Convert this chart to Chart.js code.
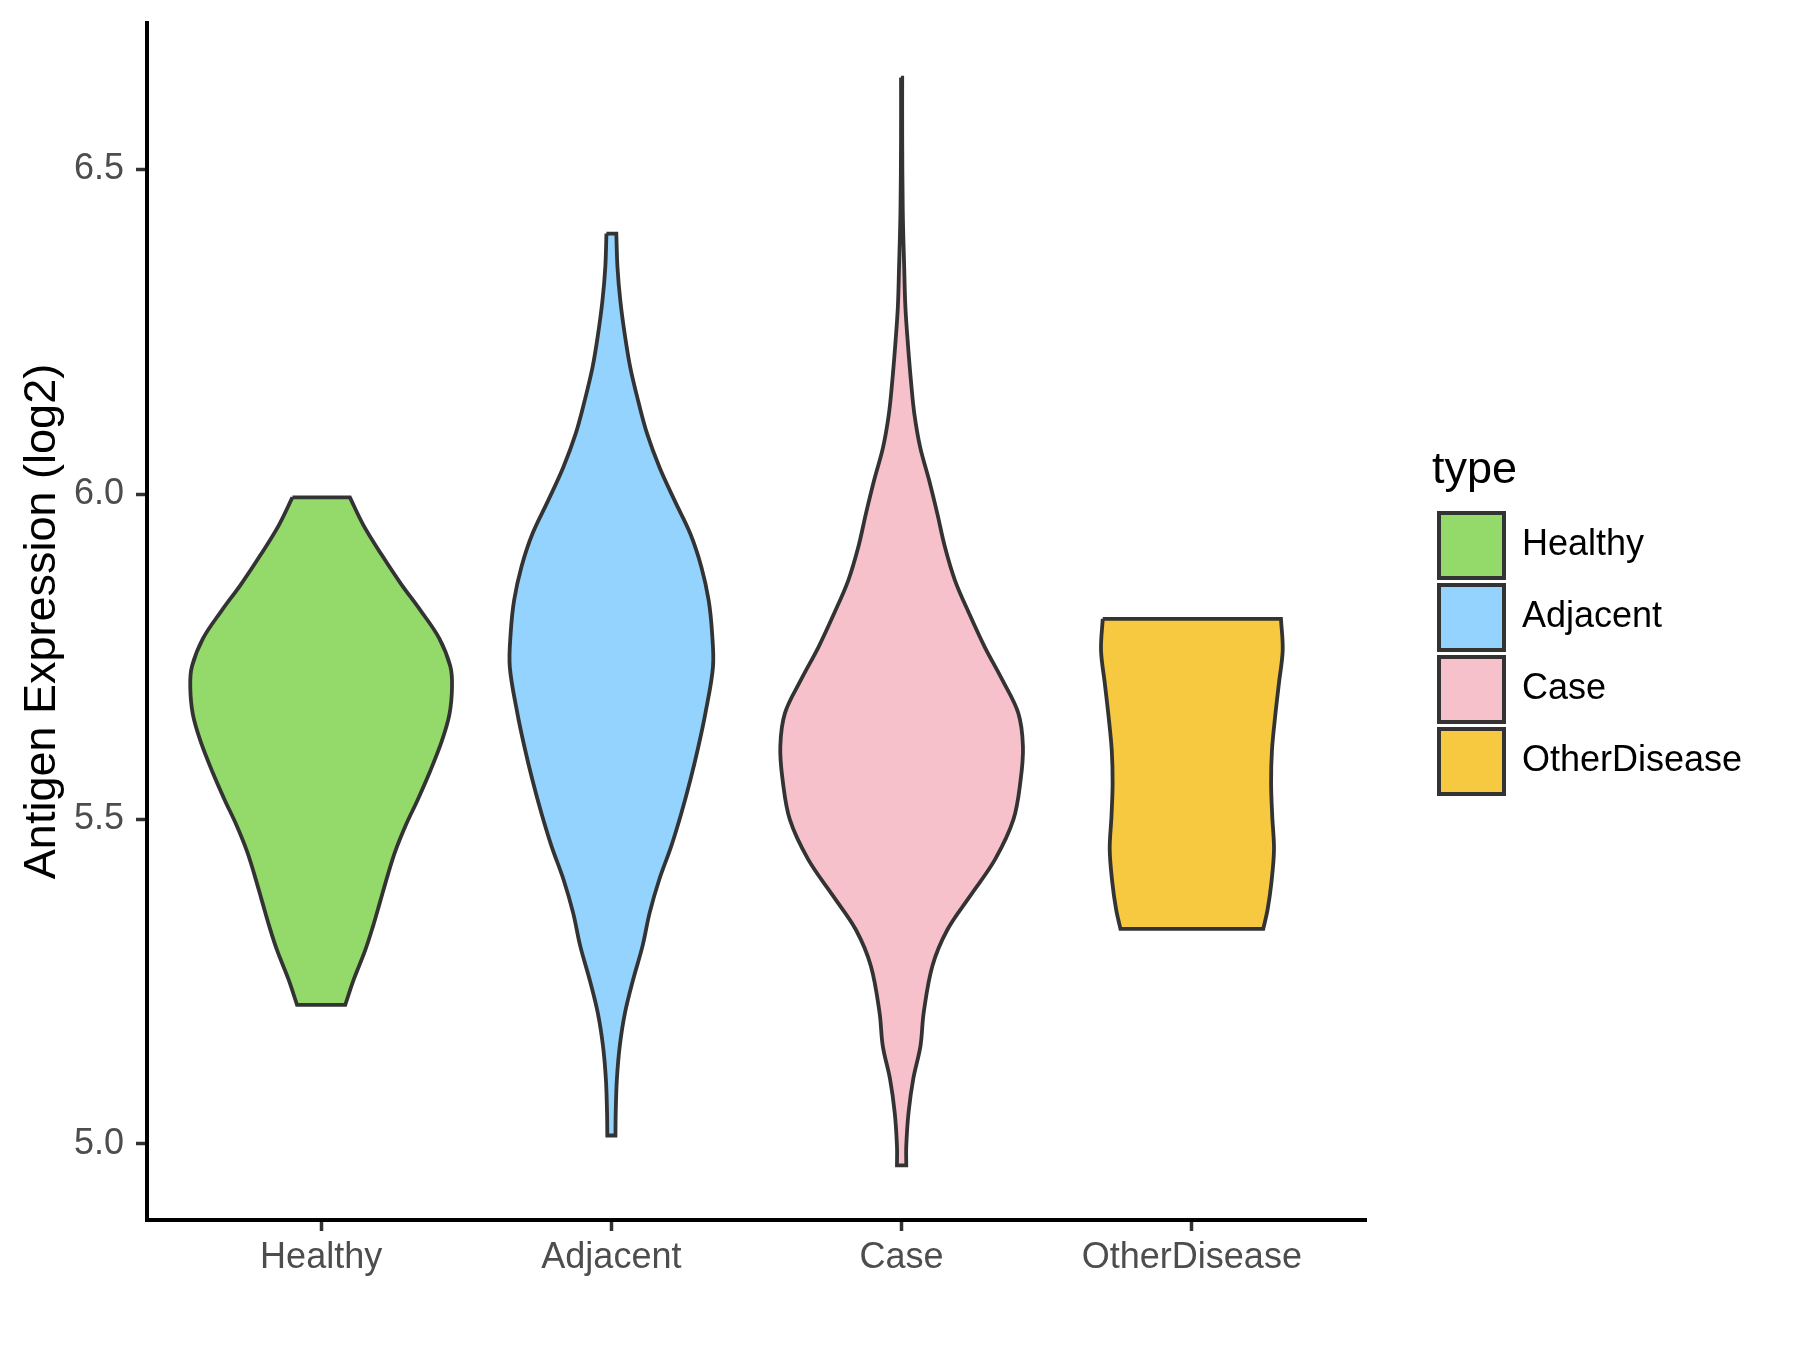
<!DOCTYPE html>
<html>
<head>
<meta charset="utf-8">
<script src="https://cdn.jsdelivr.net/npm/chart.js@4.4.1/dist/chart.umd.min.js"></script>
<style>
  html, body { margin: 0; padding: 0; background: #ffffff; }
  #wrap { width: 1800px; height: 1350px; }
</style>
</head>
<body>
<div id="wrap"><canvas id="c" width="1800" height="1350"></canvas></div>
<script>
// ---------------- data ----------------
const categories = ['Healthy', 'Adjacent', 'Case', 'OtherDisease'];

// violin outlines: expression values (log2) from top to bottom, and half-widths (category units)
const healthyY = [5.995, 5.952, 5.907, 5.862, 5.820, 5.778, 5.735, 5.704, 5.661, 5.619, 5.572, 5.529, 5.492, 5.450, 5.413, 5.371, 5.334, 5.297, 5.254, 5.214];
const healthyW = [0.099, 0.146, 0.208, 0.275, 0.344, 0.407, 0.445, 0.451, 0.442, 0.415, 0.374, 0.332, 0.293, 0.255, 0.229, 0.202, 0.178, 0.151, 0.113, 0.083];

const adjacentY = [6.401, 6.349, 6.297, 6.246, 6.195, 6.144, 6.093, 6.041, 5.990, 5.939, 5.888, 5.837, 5.786, 5.734, 5.663, 5.612, 5.560, 5.509, 5.458, 5.407, 5.356, 5.304, 5.253, 5.202, 5.151, 5.100, 5.049, 5.013];
const adjacentW = [0.017, 0.021, 0.031, 0.046, 0.065, 0.092, 0.123, 0.166, 0.218, 0.272, 0.310, 0.335, 0.347, 0.350, 0.324, 0.300, 0.272, 0.241, 0.206, 0.165, 0.132, 0.107, 0.075, 0.047, 0.029, 0.019, 0.015, 0.014];

const caseY = [6.641, 6.552, 6.435, 6.347, 6.288, 6.229, 6.170, 6.123, 6.072, 6.021, 5.970, 5.919, 5.867, 5.816, 5.765, 5.714, 5.663, 5.612, 5.560, 5.499, 5.438, 5.381, 5.330, 5.274, 5.202, 5.151, 5.100, 5.049, 4.997, 4.967];
const caseW = [0.002, 0.002, 0.004, 0.009, 0.013, 0.022, 0.033, 0.044, 0.064, 0.095, 0.123, 0.149, 0.184, 0.233, 0.286, 0.347, 0.402, 0.418, 0.410, 0.385, 0.322, 0.235, 0.158, 0.106, 0.076, 0.065, 0.040, 0.024, 0.016, 0.016];

const otherY = [5.808, 5.760, 5.709, 5.658, 5.606, 5.555, 5.504, 5.453, 5.402, 5.361, 5.331];
const otherW = [0.307, 0.313, 0.300, 0.287, 0.276, 0.273, 0.277, 0.283, 0.274, 0.261, 0.246];

const yTicks = [5.0, 5.5, 6.0, 6.5];
const yTickLabels = ['5.0', '5.5', '6.0', '6.5'];
const yTitle = 'Antigen Expression (log2)';
const legendTitle = 'type';

// ---------------- styles ----------------
const fillColors = ['#93DA6A', '#93D3FE', '#F7C1CB', '#F6C940'];
const outlineColor = '#333333';

const seriesY = [healthyY, adjacentY, caseY, otherY];
const seriesW = [healthyW, adjacentW, caseW, otherW];

// closed outline: down the left side, across the bottom, up the right side, across the top
function outline(center, ys, ws) {
  const n = ys.length;
  const L = i => ({ x: center - ws[i], y: ys[i] });
  const R = i => ({ x: center + ws[i], y: ys[i] });
  const pts = [L(0)];
  for (let i = 0; i < n; i++) pts.push(L(i));
  pts.push(L(n - 1));
  pts.push(R(n - 1));
  for (let i = n - 1; i >= 0; i--) pts.push(R(i));
  pts.push(R(0));
  pts.push(L(0));
  return pts;
}

Chart.defaults.font.family = "'Liberation Sans', Arial, Helvetica, sans-serif";
Chart.defaults.color = '#000000';

const tickGrid = {
  display: true, drawOnChartArea: false, drawTicks: true,
  tickLength: 11, tickWidth: 3.5, tickColor: '#333333'
};
const axisBorder = { display: true, color: '#000000', width: 4 };

new Chart(document.getElementById('c'), {
  type: 'line',
  data: {
    datasets: categories.map((name, i) => ({
      label: name,
      data: outline(i + 1, seriesY[i], seriesW[i]),
      xAxisID: 'x',
      yAxisID: 'y',
      backgroundColor: fillColors[i],
      borderColor: outlineColor,
      borderWidth: 3.8,
      fill: 'shape',
      tension: 0.35,
      pointRadius: 0,
      pointHoverRadius: 0
    }))
  },
  options: {
    responsive: false,
    animation: false,
    devicePixelRatio: 1,
    events: [],
    layout: { padding: { top: 23, right: 50, bottom: 0, left: 0 } },
    plugins: {
      tooltip: { enabled: false },
      legend: {
        position: 'right',
        align: 'center',
        fullSize: false,
        maxWidth: 318,
        title: {
          display: true, text: legendTitle, color: '#000000',
          font: { size: 45 }, padding: { top: 6, bottom: 4 }, position: 'start'
        },
        labels: {
          boxWidth: 65, boxHeight: 65, padding: 7, color: '#000000',
          font: { size: 36 },
          generateLabels: chart => chart.data.datasets.map((d, i) => ({
            text: d.label, fillStyle: d.backgroundColor, strokeStyle: outlineColor,
            lineWidth: 4, hidden: false, datasetIndex: i, fontColor: '#000000'
          }))
        }
      }
    },
    scales: {
      x: {
        type: 'linear', position: 'bottom', min: 0.4, max: 4.6,
        afterBuildTicks: s => { s.ticks = categories.map((c, i) => ({ value: i + 1 })); },
        afterFit: s => { s.height = 130; s.paddingLeft = 0; s.paddingRight = 0; },
        ticks: {
          callback: v => categories[Math.round(v) - 1] ?? '',
          color: '#4D4D4D', font: { size: 36 }, padding: 5.5,
          maxRotation: 0, autoSkip: false
        },
        grid: tickGrid,
        border: axisBorder
      },
      y: {
        type: 'linear', position: 'left', min: 4.883, max: 6.725,
        afterBuildTicks: s => { s.ticks = yTicks.map(v => ({ value: v })); },
        afterFit: s => { s.width = 147; s.paddingTop = 0; s.paddingBottom = 0; },
        ticks: {
          callback: v => { const i = yTicks.indexOf(v); return i >= 0 ? yTickLabels[i] : ''; },
          color: '#4D4D4D', font: { size: 36 }, padding: 12
        },
        grid: tickGrid,
        border: axisBorder,
        title: {
          display: true, text: yTitle, color: '#000000',
          font: { size: 45 }, padding: { top: 16, bottom: 0 }
        }
      },
      y2: {
        type: 'linear', position: 'right', display: true,
        afterFit: s => { s.width = 66; s.paddingTop = 0; s.paddingBottom = 0; },
        ticks: { display: false },
        grid: { display: false, drawTicks: false },
        border: { display: false }
      }
    }
  }
});
</script>
</body>
</html>
